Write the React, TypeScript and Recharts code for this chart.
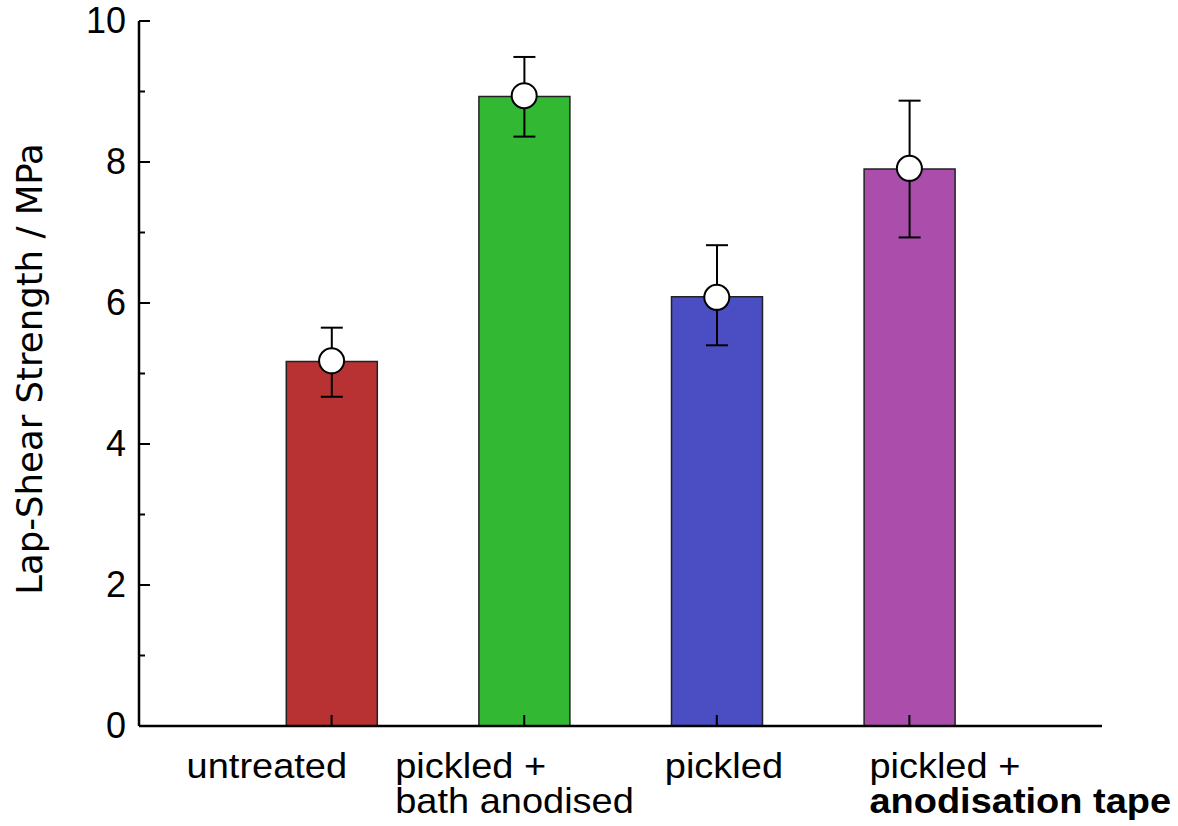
import {
    ComposedChart,
    Bar,
    Cell,
    ErrorBar,
    Scatter,
    XAxis,
    YAxis,
} from "recharts";

// category names, one or two lines each (second line of the last is bold)
const categories = [
    ["untreated"],
    ["pickled +", "bath anodised"],
    ["pickled"],
    ["pickled +", "anodisation tape"],
];
const boldSecondLine = [false, false, false, true];
const positions = [1, 2, 3, 4];
const barValues = [5.17, 8.93, 6.09, 7.90];
const meanValues = [5.18, 8.94, 6.08, 7.91];
const lowerValues = [4.68, 8.37, 5.39, 6.94];
const upperValues = [5.66, 9.50, 6.81, 8.88];
const barColors = ["#b83234", "#33b833", "#4b4ec2", "#ab4eab"];
const yTicks = [0, 1, 2, 3, 4, 5, 6, 7, 8, 9, 10];

const data = positions.map((x, i) => ({
    x,
    value: barValues[i],
    mean: meanValues[i],
    err: [meanValues[i] - lowerValues[i], upperValues[i] - meanValues[i]],
}));

const FONT = "'Liberation Sans', Arial, Helvetica, sans-serif";
// left edge of each label relative to its tick
const labelOffsets = [-145, -129, -52, -40];

const LeftTick = ({ x, y, payload }: any) => {
    const major = payload.value % 2 === 0;
    return (
        <g>
            <line x1={x} y1={y} x2={x + (major ? 11 : 6)} y2={y} stroke="#000" strokeWidth={2} />
            {major && (
                <text x={x - 13} y={y + 12} textAnchor="end" fontSize={36} fontFamily={FONT} fill="#000">
                    {payload.value}
                </text>
            )}
        </g>
    );
};

const RightTick = ({ x, y, payload }: any) => {
    const major = payload.value % 2 === 0;
    return <line x1={x} y1={y} x2={x - (major ? 11 : 6)} y2={y} stroke="#000" strokeWidth={2} />;
};

const TopTick = ({ x, y }: any) => (
    <line x1={x} y1={y} x2={x} y2={y + 11} stroke="#000" strokeWidth={2} />
);

const BottomTick = ({ x, y, payload }: any) => {
    const i = payload.value - 1;
    const lines = categories[i] || [];
    return (
        <g>
            <line x1={x} y1={y} x2={x} y2={y - 11} stroke="#000" strokeWidth={2} />
            {lines.map((t, k) => (
                <g key={k} transform={`translate(${x + labelOffsets[i]}, ${y + 52 + k * 35}) scale(1.055, 1)`}>
                    <text
                        x={0}
                        y={0}
                        textAnchor="start"
                        fontSize={36}
                        fontFamily={FONT}
                        fontWeight={k === 1 && boldSecondLine[i] ? "bold" : "normal"}
                        fill="#000"
                    >
                        {t}
                    </text>
                </g>
            ))}
        </g>
    );
};

const MeanDot = ({ cx, cy }: any) => (
    <circle cx={cx} cy={cy} r={12.5} fill="#fff" stroke="#000" strokeWidth={2} />
);

export default function App() {
    return (
        <div style={{ position: "absolute", left: 0, top: 0, background: "#fff" }}>
            <ComposedChart
                width={1178}
                height={826}
                data={data}
                margin={{ top: 21, right: 76, left: 0, bottom: 0 }}
            >
                <XAxis
                    dataKey="x"
                    type="number"
                    domain={[0, 5]}
                    ticks={positions}
                    height={100}
                    axisLine={{ stroke: "#000", strokeWidth: 2.5 }}
                    tickLine={false}
                    tickSize={0}
                    tickMargin={0}
                    tick={<BottomTick />}
                    interval={0}
                />
                <XAxis
                    xAxisId="top"
                    orientation="top"
                    dataKey="x"
                    type="number"
                    domain={[0, 5]}
                    ticks={positions}
                    height={0}
                    axisLine={{ stroke: "#000", strokeWidth: 2.5 }}
                    tickLine={false}
                    tickSize={0}
                    tickMargin={0}
                    tick={<TopTick />}
                    interval={0}
                />
                <YAxis
                    type="number"
                    domain={[0, 10]}
                    ticks={yTicks}
                    width={139}
                    axisLine={{ stroke: "#000", strokeWidth: 2.5 }}
                    tickLine={false}
                    tickSize={0}
                    tickMargin={0}
                    tick={<LeftTick />}
                    interval={0}
                />
                <YAxis
                    yAxisId="right"
                    orientation="right"
                    type="number"
                    domain={[0, 10]}
                    ticks={yTicks}
                    width={0}
                    axisLine={{ stroke: "#000", strokeWidth: 2.5 }}
                    tickLine={false}
                    tickSize={0}
                    tickMargin={0}
                    tick={<RightTick />}
                    interval={0}
                />
                <Bar dataKey="value" barSize={91} stroke="#222" strokeWidth={1.5} isAnimationActive={false}>
                    {data.map((d, i) => (
                        <Cell key={i} fill={barColors[i]} />
                    ))}
                    <ErrorBar dataKey="err" width={11} stroke="#000" strokeWidth={2} />
                </Bar>
                <Scatter dataKey="mean" shape={<MeanDot />} isAnimationActive={false} />
            </ComposedChart>
            <svg
                width={80}
                height={826}
                style={{ position: "absolute", left: 0, top: 0, pointerEvents: "none" }}
            >
                <text
                    x={42}
                    y={369}
                    transform="rotate(-90, 42, 369)"
                    textAnchor="middle"
                    fontSize={35.5}
                    fontFamily="'DejaVu Sans', Verdana, sans-serif"
                    fill="#000"
                >
                    Lap-Shear Strength / MPa
                </text>
            </svg>
        </div>
    );
}
